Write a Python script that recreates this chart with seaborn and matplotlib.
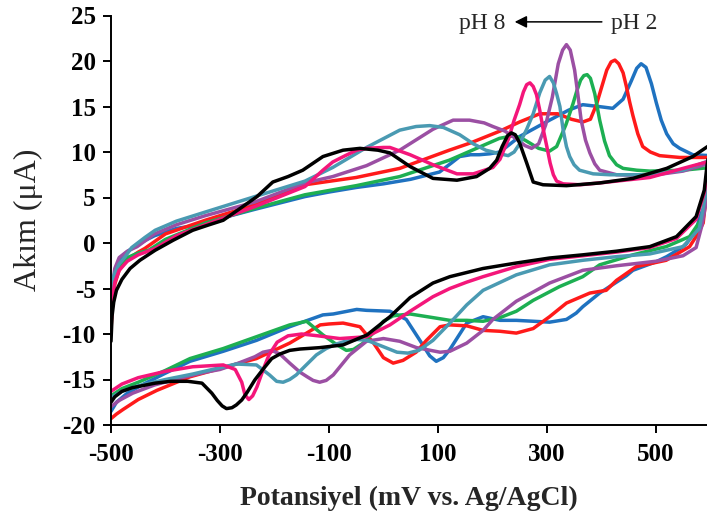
import numpy as np
import pandas as pd
import matplotlib
matplotlib.use("Agg")
import matplotlib.pyplot as plt
import seaborn as sns

# ---------------- data ----------------
ph_labels = ["pH 2", "pH 3", "pH 4", "pH 5", "pH 6", "pH 7", "pH 8"]
colors = ["#1F72C0", "#FF1A1A", "#1DAF52", "#9B4FA3", "#4A9AB2", "#F4167A", "#000000"]

# pH 2 (blue)
e_up_ph2 = [-500, -497, -493, -485, -475, -462, -440, -420, -380, -327, -280, -236, -190, -144, -100, -50, 0, 50, 103, 125, 140, 160, 176, 195, 214, 250, 305, 340, 366, 395, 421, 440, 455, 465, 473, 482, 492, 501, 510, 520, 532, 544, 568, 600]
i_up_ph2 = [-9.0, -5.5, -3.5, -2.0, -1.2, -0.6, 0.2, 0.8, 1.6, 2.1, 3.0, 3.7, 4.4, 5.1, 5.6, 6.1, 6.5, 7.0, 7.8, 8.8, 9.5, 9.7, 9.7, 9.8, 10.0, 11.7, 13.5, 14.6, 15.2, 15.0, 14.8, 15.8, 17.8, 19.2, 19.7, 19.3, 17.5, 15.4, 13.5, 12.0, 10.9, 10.4, 9.7, 9.6]
e_dn_ph2 = [600, 594, 589, 581, 574, 556, 550, 520, 501, 458, 446, 397, 366, 354, 336, 305, 275, 244, 214, 183, 153, 122, 110, 97, 85, 67, 42, 12, -31, -49, -92, -111, -172, -233, -294, -355, -400, -440, -470, -490, -500]
i_dn_ph2 = [9.6, 6.9, 4.0, 2.9, 1.4, -0.1, -0.4, -1.5, -2.05, -3.0, -3.6, -5.5, -7.0, -7.7, -8.4, -8.7, -8.6, -8.5, -8.5, -8.1, -8.8, -11.7, -12.6, -13.0, -12.4, -10.7, -8.4, -7.5, -7.4, -7.3, -7.8, -7.9, -9.2, -10.7, -11.9, -13.0, -14.3, -15.5, -16.5, -17.5, -18.5]

# pH 3 (red)
e_up_ph3 = [-500, -497, -493, -485, -470, -450, -438, -400, -327, -236, -144, -50, 30, 121, 160, 214, 250, 287, 320, 345, 366, 380, 391, 400, 410, 418, 425, 432, 440, 446, 452, 458, 467, 476, 490, 507, 544, 600]
i_up_ph3 = [-9.5, -6.5, -4.5, -3.0, -1.8, -1.0, -0.6, 1.0, 2.5, 4.2, 6.4, 7.2, 8.2, 10.2, 11.0, 12.3, 13.3, 14.2, 14.2, 13.6, 13.3, 13.6, 15.2, 17.0, 19.0, 19.9, 20.1, 19.7, 18.7, 17.2, 15.5, 14.0, 12.0, 10.6, 10.0, 9.6, 9.4, 9.4]
e_dn_ph3 = [600, 594, 587, 575, 562, 519, 464, 428, 409, 379, 336, 305, 275, 244, 214, 183, 153, 122, 104, 79, 60, 36, 18, 0, -18, -43, -74, -100, -116, -141, -172, -233, -294, -355, -416, -450, -478, -490, -500]
i_dn_ph3 = [9.4, 6.0, 2.2, 0.8, -0.4, -1.9, -2.6, -4.1, -5.2, -5.5, -6.6, -8.1, -9.4, -9.9, -9.7, -9.6, -9.1, -9.0, -9.2, -10.7, -12.0, -12.9, -13.2, -12.6, -11.0, -9.2, -8.8, -8.9, -9.0, -9.9, -11.0, -12.7, -13.7, -14.7, -16.2, -17.2, -18.3, -18.8, -19.3]

# pH 4 (green)
e_up_ph4 = [-500, -497, -493, -485, -470, -450, -431, -400, -327, -236, -144, -50, 30, 121, 213, 240, 260, 285, 305, 318, 335, 348, 355, 362, 368, 374, 380, 388, 397, 406, 415, 428, 440, 465, 489, 550, 600]
i_up_ph4 = [-8.5, -5.5, -3.8, -2.5, -1.6, -1.1, -0.8, 0.4, 2.2, 3.8, 5.3, 6.3, 7.3, 9.1, 11.5, 11.8, 11.3, 10.4, 10.1, 10.6, 13.0, 15.3, 16.7, 17.9, 18.4, 18.5, 18.1, 16.4, 13.5, 11.2, 9.6, 8.6, 8.2, 8.0, 7.9, 8.0, 8.3]
e_dn_ph4 = [600, 594, 587, 562, 519, 458, 397, 366, 323, 275, 244, 214, 183, 153, 122, 91, 49, 18, 0, -12, -37, -55, -68, -85, -111, -141, -172, -233, -294, -355, -400, -450, -480, -500]
i_dn_ph4 = [8.3, 5.5, 2.9, 0.7, -0.4, -1.3, -2.4, -3.7, -4.8, -6.3, -7.5, -8.2, -8.6, -8.5, -8.5, -8.2, -7.8, -8.0, -8.6, -9.5, -11.0, -11.7, -11.8, -11.2, -10.1, -8.6, -9.0, -10.3, -11.6, -12.7, -14.0, -15.3, -16.0, -16.8]

# pH 5 (purple)
e_up_ph5 = [-500, -497, -493, -485, -470, -452, -420, -380, -327, -236, -144, -93, -31, 30, 91, 128, 158, 185, 201, 223, 245, 260, 272, 285, 298, 310, 321, 329, 336, 343, 351, 357, 363, 371, 379, 388, 397, 428, 489, 550, 600]
i_up_ph5 = [-8.0, -4.5, -2.8, -1.6, -0.9, -0.4, 1.0, 2.0, 3.0, 4.5, 6.6, 7.3, 8.5, 10.2, 12.5, 13.5, 13.5, 13.2, 12.8, 12.3, 11.4, 10.7, 10.4, 10.9, 13.0, 16.0, 19.7, 21.2, 21.8, 21.2, 19.0, 16.3, 13.5, 11.3, 9.9, 8.7, 8.0, 7.5, 7.4, 7.9, 8.8]
e_dn_ph5 = [600, 594, 585, 574, 550, 501, 428, 366, 305, 244, 201, 183, 153, 122, 104, 61, 30, 0, -31, -62, -92, -105, -117, -129, -140, -153, -172, -190, -205, -221, -236, -266, -300, -327, -370, -420, -460, -485, -500]
i_dn_ph5 = [8.8, 5.1, 2.0, -0.5, -1.4, -2.0, -2.5, -3.0, -4.4, -6.4, -8.4, -9.6, -11.0, -11.9, -12.0, -11.5, -10.8, -10.5, -10.8, -12.3, -14.5, -15.1, -15.3, -15.1, -14.7, -14.2, -13.2, -12.2, -11.8, -12.0, -12.5, -13.2, -13.9, -14.2, -14.8, -15.6, -16.5, -17.3, -18.0]

# pH 6 (teal)
e_up_ph6 = [-500, -497, -493, -485, -474, -462, -438, -419, -380, -327, -236, -144, -93, -31, 30, 60, 85, 110, 140, 165, 188, 214, 229, 240, 250, 263, 275, 287, 297, 305, 312, 318, 324, 330, 336, 342, 350, 360, 385, 415, 489, 550, 600]
i_up_ph6 = [-7.5, -4.0, -3.3, -2.3, -1.5, -0.5, 0.6, 1.4, 2.4, 3.4, 5.1, 6.8, 8.3, 10.5, 12.4, 12.8, 12.9, 12.7, 11.9, 10.9, 10.2, 9.8, 9.6, 10.0, 10.9, 12.5, 14.2, 16.5, 17.9, 18.3, 17.6, 16.4, 15.0, 12.4, 10.6, 9.5, 8.6, 8.0, 7.6, 7.5, 7.5, 8.0, 9.1]
e_dn_ph6 = [600, 594, 580, 550, 489, 428, 366, 305, 244, 183, 153, 122, 91, 65, 45, 25, 0, -30, -49, -70, -86, -105, -123, -145, -160, -172, -184, -196, -209, -233, -270, -300, -350, -400, -450, -480, -500]
i_dn_ph6 = [9.1, 6.1, 1.6, -0.4, -1.2, -1.5, -1.9, -2.4, -3.5, -5.2, -6.8, -8.8, -10.7, -11.8, -12.1, -12.0, -11.4, -10.7, -10.6, -10.8, -11.1, -11.6, -12.3, -13.6, -14.5, -15.0, -15.3, -15.2, -14.5, -13.4, -13.3, -13.7, -14.4, -15.0, -15.7, -16.3, -17.0]

# pH 7 (pink)
e_up_ph7 = [-500, -497, -493, -485, -470, -450, -419, -380, -327, -236, -144, -111, -93, -70, -49, -31, 0, 12, 49, 91, 135, 165, 201, 214, 230, 240, 250, 257, 263, 269, 275, 281, 287, 293, 300, 306, 312, 318, 330, 361, 397, 489, 550, 600]
i_up_ph7 = [-9.0, -6.0, -4.3, -3.0, -2.0, -1.3, -0.6, 0.8, 2.0, 4.0, 6.2, 8.0, 8.9, 9.6, 10.2, 10.4, 10.5, 10.5, 9.7, 8.6, 7.6, 7.6, 8.3, 9.2, 11.5, 13.5, 15.2, 16.6, 17.4, 17.6, 17.2, 16.3, 14.6, 12.6, 10.6, 8.8, 7.5, 6.8, 6.5, 6.4, 6.6, 7.2, 8.2, 9.0]
e_dn_ph7 = [600, 594, 589, 574, 538, 489, 428, 366, 305, 244, 183, 153, 122, 91, 49, 12, -31, -80, -120, -150, -175, -195, -210, -220, -232, -240, -247, -254, -260, -272, -294, -350, -400, -450, -480, -500]
i_dn_ph7 = [9.0, 7.5, 5.5, 2.6, 0.5, -0.5, -1.0, -1.4, -1.8, -2.6, -3.7, -4.3, -5.0, -5.9, -7.5, -9.0, -10.3, -10.5, -10.2, -10.0, -10.2, -10.9, -12.3, -13.8, -15.8, -16.8, -17.2, -16.7, -15.3, -13.9, -13.4, -13.6, -14.1, -14.8, -15.5, -16.3]

# pH 8 (black)
e_up_ph8 = [-500, -498, -495, -490, -480, -465, -447, -419, -386, -350, -320, -294, -263, -232, -203, -175, -148, -111, -74, -43, -10, 12, 49, 91, 135, 171, 195, 208, 218, 228, 235, 242, 250, 263, 275, 293, 336, 397, 458, 520, 568, 600]
i_up_ph8 = [-10.8, -8.0, -6.5, -5.2, -4.0, -2.8, -1.9, -0.8, 0.3, 1.4, 2.0, 2.5, 3.8, 5.1, 6.7, 7.3, 8.0, 9.5, 10.2, 10.4, 10.2, 9.9, 8.4, 7.1, 6.9, 7.3, 8.2, 9.1, 10.6, 11.8, 12.1, 11.9, 11.0, 8.8, 6.7, 6.4, 6.3, 6.6, 7.1, 8.2, 9.5, 10.8]
e_dn_ph8 = [600, 594, 589, 574, 538, 489, 428, 366, 305, 244, 183, 122, 91, 49, 12, -30, -74, -117, -153, -172, -190, -205, -220, -236, -250, -260, -270, -278, -288, -296, -305, -315, -333, -359, -390, -419, -461, -480, -493, -500]
i_dn_ph8 = [10.8, 8.5, 5.8, 2.9, 0.7, -0.4, -0.9, -1.3, -1.65, -2.2, -2.8, -3.7, -4.4, -6.0, -8.1, -10.1, -11.2, -11.5, -11.65, -11.8, -12.2, -12.7, -13.8, -15.05, -16.4, -17.25, -17.8, -18.1, -18.2, -17.9, -17.3, -16.5, -15.4, -15.2, -15.2, -15.4, -15.9, -16.3, -16.9, -17.5]

x_ticks = [-500, -300, -100, 100, 300, 500]
y_ticks = [-20, -15, -10, -5, 0, 5, 10, 15, 20, 25]

# ---------------- build table ----------------
curves = {
    "pH 2": (e_up_ph2, i_up_ph2, e_dn_ph2, i_dn_ph2),
    "pH 3": (e_up_ph3, i_up_ph3, e_dn_ph3, i_dn_ph3),
    "pH 4": (e_up_ph4, i_up_ph4, e_dn_ph4, i_dn_ph4),
    "pH 5": (e_up_ph5, i_up_ph5, e_dn_ph5, i_dn_ph5),
    "pH 6": (e_up_ph6, i_up_ph6, e_dn_ph6, i_dn_ph6),
    "pH 7": (e_up_ph7, i_up_ph7, e_dn_ph7, i_dn_ph7),
    "pH 8": (e_up_ph8, i_up_ph8, e_dn_ph8, i_dn_ph8),
}
frames = []
for name in ph_labels:
    eu, iu, ed, idn = curves[name]
    frames.append(pd.DataFrame({"E": list(eu) + list(ed),
                                "I": list(iu) + list(idn),
                                "pH": name}))
df = pd.concat(frames, ignore_index=True)

# ---------------- plot ----------------
sns.set_theme(style="ticks")
plt.rcParams["font.family"] = ["Liberation Serif", "DejaVu Serif"]
plt.rcParams["axes.unicode_minus"] = False

W, H = 707, 518
fig = plt.figure(figsize=(W / 100, H / 100), dpi=100)
ax = fig.add_axes([111 / W, 1 - 425 / H, (W - 111) / W, (425 - 15.5) / H])

sns.lineplot(data=df, x="E", y="I", hue="pH", hue_order=ph_labels,
             palette=dict(zip(ph_labels, colors)), sort=False,
             estimator=None, legend=False, linewidth=2.5, ax=ax)

ax.set_xlim(-500, 594)
ax.set_ylim(-20, 25)
ax.set_xticks(x_ticks)
ax.set_yticks(y_ticks)
ax.set_xticklabels([str(v) for v in x_ticks], fontsize=18, fontweight="bold")
ax.set_yticklabels([str(v) for v in y_ticks], fontsize=18, fontweight="bold")
ax.tick_params(axis="both", direction="out", length=6, width=1.4,
               colors="black", pad=5)
ax.tick_params(axis="x", pad=7)

for s in ["top", "right"]:
    ax.spines[s].set_visible(False)
for s in ["left", "bottom"]:
    ax.spines[s].set_color("black")
    ax.spines[s].set_linewidth(1.4)

ax.set_xlabel("Potansiyel (mV vs. Ag/AgCl)", fontsize=20, fontweight="bold")
ax.xaxis.set_label_coords(0.5, -0.18)
ax.xaxis.label.set_va("center")
ax.set_ylabel("Akım (μA)", fontsize=23)
ax.yaxis.set_label_coords(-0.138, 0.5)
ax.yaxis.label.set_va("center")

ax.annotate("", xy=(241, 24.3), xytext=(401, 24.3),
            arrowprops=dict(arrowstyle="-|>", color="black", lw=1.1,
                            mutation_scale=18, shrinkA=0, shrinkB=0))
ax.text(181, 24.1, "pH 8", fontsize=17, ha="center", va="center")
ax.text(460, 24.1, "pH 2", fontsize=17, ha="center", va="center")

fig.savefig("out.png", dpi=100)
